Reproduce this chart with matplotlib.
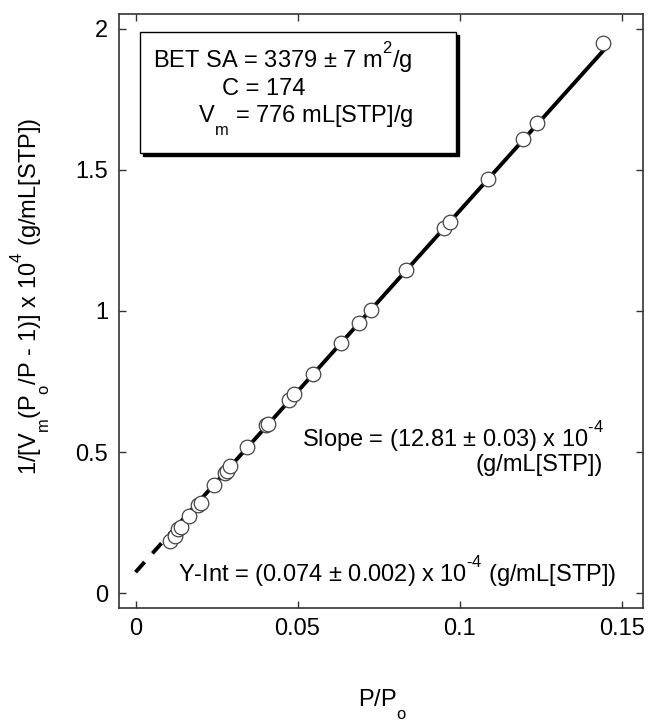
import numpy as np
import matplotlib
matplotlib.use("Agg")
import matplotlib.pyplot as plt
from matplotlib.patches import Rectangle
from matplotlib import _mathtext

plt.rcParams["font.family"] = ["Liberation Sans", "DejaVu Sans"]
plt.rcParams["mathtext.fontset"] = "custom"
plt.rcParams["mathtext.rm"] = "Liberation Sans"
# deeper subscripts / higher superscripts, like the original software
_mathtext.FontConstantsBase.sub1 = 0.95
_mathtext.FontConstantsBase.sub2 = 0.95
_mathtext.FontConstantsBase.sup1 = 1.0

# BET data
p_rel = [0.0107, 0.0122, 0.0132, 0.0139, 0.0166, 0.0194, 0.0201, 0.0243,
         0.0275, 0.0281, 0.0290, 0.0343, 0.0404, 0.0409, 0.0473, 0.0489,
         0.0549, 0.0634, 0.0691, 0.0727, 0.0836, 0.0953, 0.0971, 0.1089,
         0.1197, 0.1238, 0.1444]
bet_y = [0.185, 0.204, 0.227, 0.234, 0.273, 0.313, 0.320, 0.382,
         0.425, 0.434, 0.450, 0.519, 0.595, 0.600, 0.683, 0.704,
         0.778, 0.887, 0.958, 1.005, 1.145, 1.295, 1.314, 1.468,
         1.610, 1.666, 1.949]

# linear fit
slope = 12.81
intercept = 0.074
fit_solid = [0.0107, 0.1444]
fit_dash = [0.0, 0.0107]

x_ticks = [0, 0.05, 0.1, 0.15]
x_ticklabels = ["0", "0.05", "0.1", "0.15"]
y_ticks = [0, 0.5, 1, 1.5, 2]
y_ticklabels = ["0", "0.5", "1", "1.5", "2"]

fs = 17

fig = plt.figure(figsize=(6.48, 7.21), dpi=100)
ax = fig.add_axes([119 / 648, 1 - 608 / 721, 524 / 648, 594 / 721])

xs = np.array(fit_dash)
ax.plot(xs, intercept + slope * xs, color="black", lw=2.8, ls=(0, (3.5, 3)),
        solid_capstyle="butt", zorder=2)
xs = np.array(fit_solid)
ax.plot(xs, intercept + slope * xs, color="black", lw=2.8, zorder=2)

ax.plot(p_rel, bet_y, ls="none", marker="o", ms=10.5, mfc="white",
        mec="#444444", mew=0.9, zorder=3)

ax.set_xlim(-0.0051, 0.1566)
ax.set_ylim(-0.053, 2.053)
ax.set_xticks(x_ticks)
ax.set_xticklabels(x_ticklabels)
ax.set_yticks(y_ticks)
ax.set_yticklabels(y_ticklabels)
ax.tick_params(direction="in", length=5, width=1, top=True, right=True,
               labelsize=fs, color="#333333")
ax.tick_params(axis="x", pad=7)
ax.tick_params(axis="y", pad=8)
for s in ax.spines.values():
    s.set_color("#333333")
    s.set_linewidth(1.2)

# info box with drop shadow
bx0, bx1, by0, by1 = 0.040, 0.643, 0.766, 0.970
dx, dy = 3 / 524, 3 / 594
ax.add_patch(Rectangle((bx0 + dx, by0 - dy), bx1 - bx0, by1 - by0,
                       transform=ax.transAxes, facecolor="black",
                       edgecolor="black", zorder=4))
ax.add_patch(Rectangle((bx0, by0), bx1 - bx0, by1 - by0,
                       transform=ax.transAxes, facecolor="white",
                       edgecolor="black", lw=1, zorder=5))
ax.text(0.065, 0.909, "BET SA = 3379 \u00b1 7 m$^\\mathregular{2}$/g",
        transform=ax.transAxes, fontsize=fs, va="baseline", zorder=6)
ax.text(0.1966, 0.8636, "C = 174", transform=ax.transAxes, fontsize=fs,
        va="baseline", zorder=6)
ax.text(0.1508, 0.8165, "V$_\\mathregular{m}$ = 776 mL[STP]/g",
        transform=ax.transAxes, fontsize=fs, va="baseline", zorder=6)

ax.text(0.349, 0.2716, "Slope = (12.81 \u00b1 0.03) x 10$^\\text{-4}$",
        transform=ax.transAxes, fontsize=fs, va="baseline")
ax.text(0.9237, 0.2311, "(g/mL[STP])", transform=ax.transAxes, fontsize=fs,
        va="baseline", ha="right")
ax.text(0.1118, 0.0443,
        "Y-Int = (0.074 \u00b1 0.002) x 10$^\\text{-4}$ (g/mL[STP])",
        transform=ax.transAxes, fontsize=fs, va="baseline")

fig.text(358 / 648, 1 - 707 / 721, "P/P$_\\mathregular{o}$", fontsize=fs,
         ha="left", va="baseline")
fig.text(30 / 648, 1 - 296 / 721,
         "1/[V$_\\mathregular{m}$(P$_\\mathregular{o}$/P - 1)] x 10$^\\mathregular{4}$ (g/mL[STP])",
         fontsize=fs, rotation=90, ha="center", va="center")

fig.savefig("out.png", dpi=100)
